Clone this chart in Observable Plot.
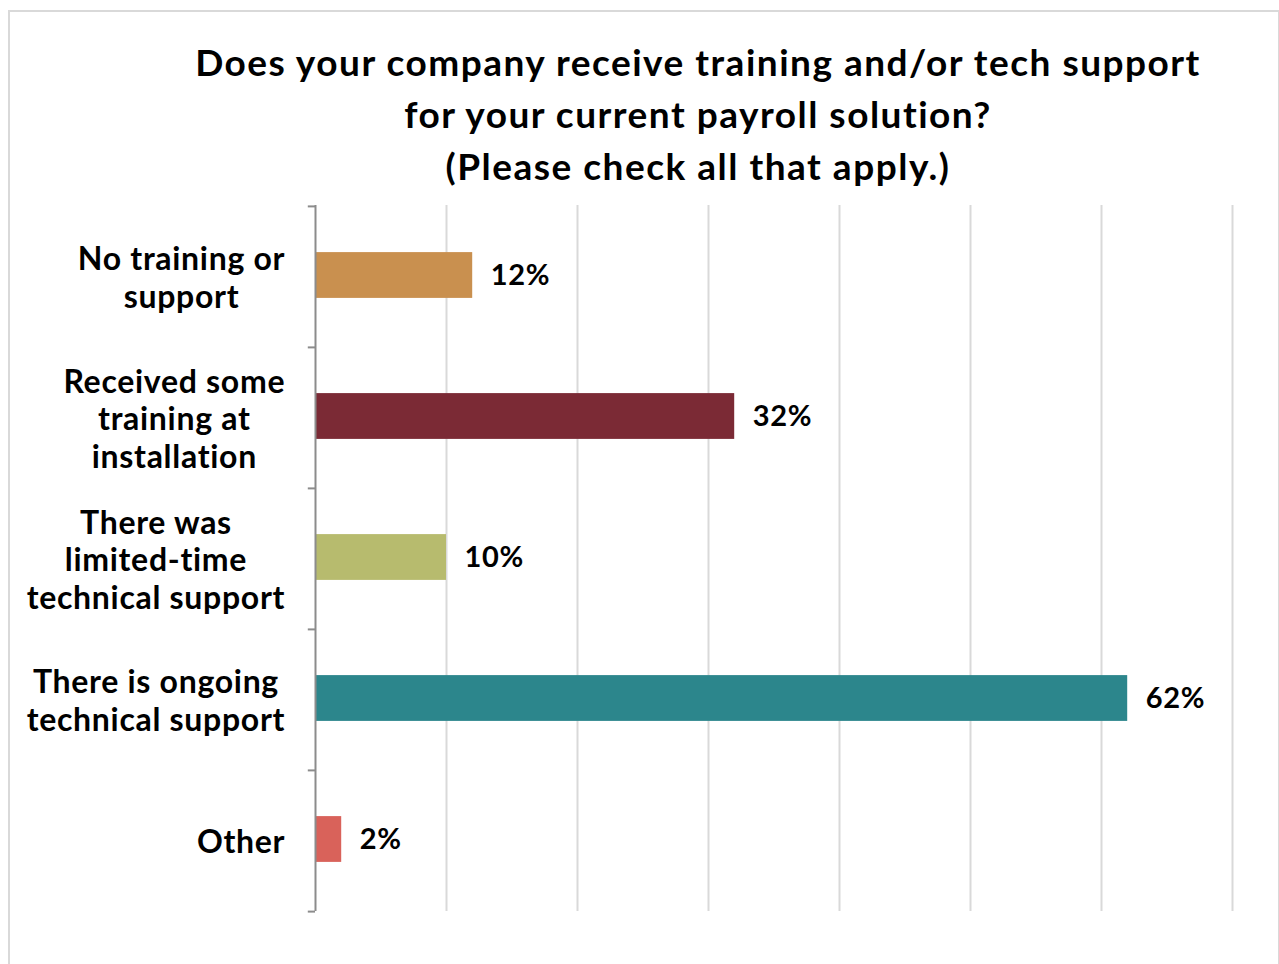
<!DOCTYPE html>
<html>
<head>
<meta charset="utf-8">
<script src="https://cdn.jsdelivr.net/npm/d3@7"></script>
<script src="https://cdn.jsdelivr.net/npm/@observablehq/plot@0.6"></script>
<style>
  html, body { margin: 0; padding: 0; background: #fff; }
  body { width: 1279px; height: 964px; position: relative; overflow: hidden; font-family: Lato, "Open Sans", sans-serif; }
  #frame { position: absolute; left: 8px; top: 10px; width: 1272px; height: 980px; border: 2px solid #d9d9d9; box-sizing: border-box; z-index: 2; pointer-events: none; }
  #title { position: absolute; left: 118px; top: 36px; width: 1160px; text-align: center; font-weight: bold; font-size: 37px; letter-spacing: 1.5px; line-height: 52px; color: #000; }
  #chart { position: absolute; left: 0; top: 190px; }
  #chart svg text { letter-spacing: 0.7px; }
</style>
</head>
<body>
<div id="frame"></div>
<div id="title">Does your company receive training and/or tech support<br>for your current payroll solution?<br>(Please check all that apply.)</div>
<div id="chart"></div>
<script>
const categories = [
  "No training or support",
  "Received some training at installation",
  "There was limited-time technical support",
  "There is ongoing technical support",
  "Other"
];
const labelLines = [
  ["No training or", "support"],
  ["Received some", "training at", "installation"],
  ["There was", "limited-time", "technical support"],
  ["There is ongoing", "technical support"],
  ["Other"]
];
const values = [12, 32, 10, 62, 2];
const colors = ["#C9904F", "#7B2A35", "#B7BB6E", "#2C868C", "#D9625A"];
const gridTicks = [10, 20, 30, 40, 50, 60, 70];

const data = categories.map((c, i) => ({category: c, value: values[i], color: colors[i], lines: labelLines[i]}));

const W = 1279, H = 774, mTop = 15, mBottom = 53, mLeft = 315, mRight = 47;
const step = (H - mTop - mBottom) / categories.length;
const labelFont = 32, labelLS = 0.7;
const FONT = "Lato, 'Open Sans', sans-serif";

const ctx = document.createElement("canvas").getContext("2d");
ctx.font = `bold ${labelFont}px Lato`;
const labelMarks = data.map(d => {
  const maxW = Math.max(...d.lines.map(l => ctx.measureText(l).width + l.length * labelLS));
  return Plot.text([d], {
    x: () => 0, y: "category", text: d => d.lines.join("\n"),
    textAnchor: "middle", dx: -(31 + maxW / 2 - labelLS), fontSize: labelFont, fontWeight: "bold",
    lineHeight: 37.5 / labelFont, fill: "#000"
  });
});

const chart = Plot.plot({
  width: W, height: H,
  marginTop: mTop, marginBottom: mBottom, marginLeft: mLeft, marginRight: mRight,
  style: {fontFamily: FONT, background: "transparent", overflow: "visible"},
  x: {domain: [0, 70], axis: null},
  y: {domain: categories, paddingInner: 0, paddingOuter: 0, axis: null},
  marks: [
    Plot.ruleX(gridTicks, {stroke: "#d9d9d9", strokeWidth: 2}),
    Plot.barX(data, {x: "value", y: "category", fill: "color", insetTop: (step - 46) / 2 - 1.5, insetBottom: (step - 46) / 2 + 1.5}),
    Plot.ruleX([0], {stroke: "#8c8c8c", strokeWidth: 2}),
    Plot.ruleY(categories, {y: d => d, x1: -0.55, x2: 0, dy: -step / 2, stroke: "#8c8c8c", strokeWidth: 2}),
    Plot.ruleY([categories[categories.length - 1]], {y: d => d, x1: -0.55, x2: 0, dy: step / 2, stroke: "#8c8c8c", strokeWidth: 2}),
    Plot.text(data, {x: "value", y: "category", text: d => d.value + "%", dx: 18, dy: -1, textAnchor: "start", fontSize: 29, fontWeight: "bold", fill: "#000"}),
    ...labelMarks
  ]
});
document.getElementById("chart").appendChild(chart);
</script>
</body>
</html>
